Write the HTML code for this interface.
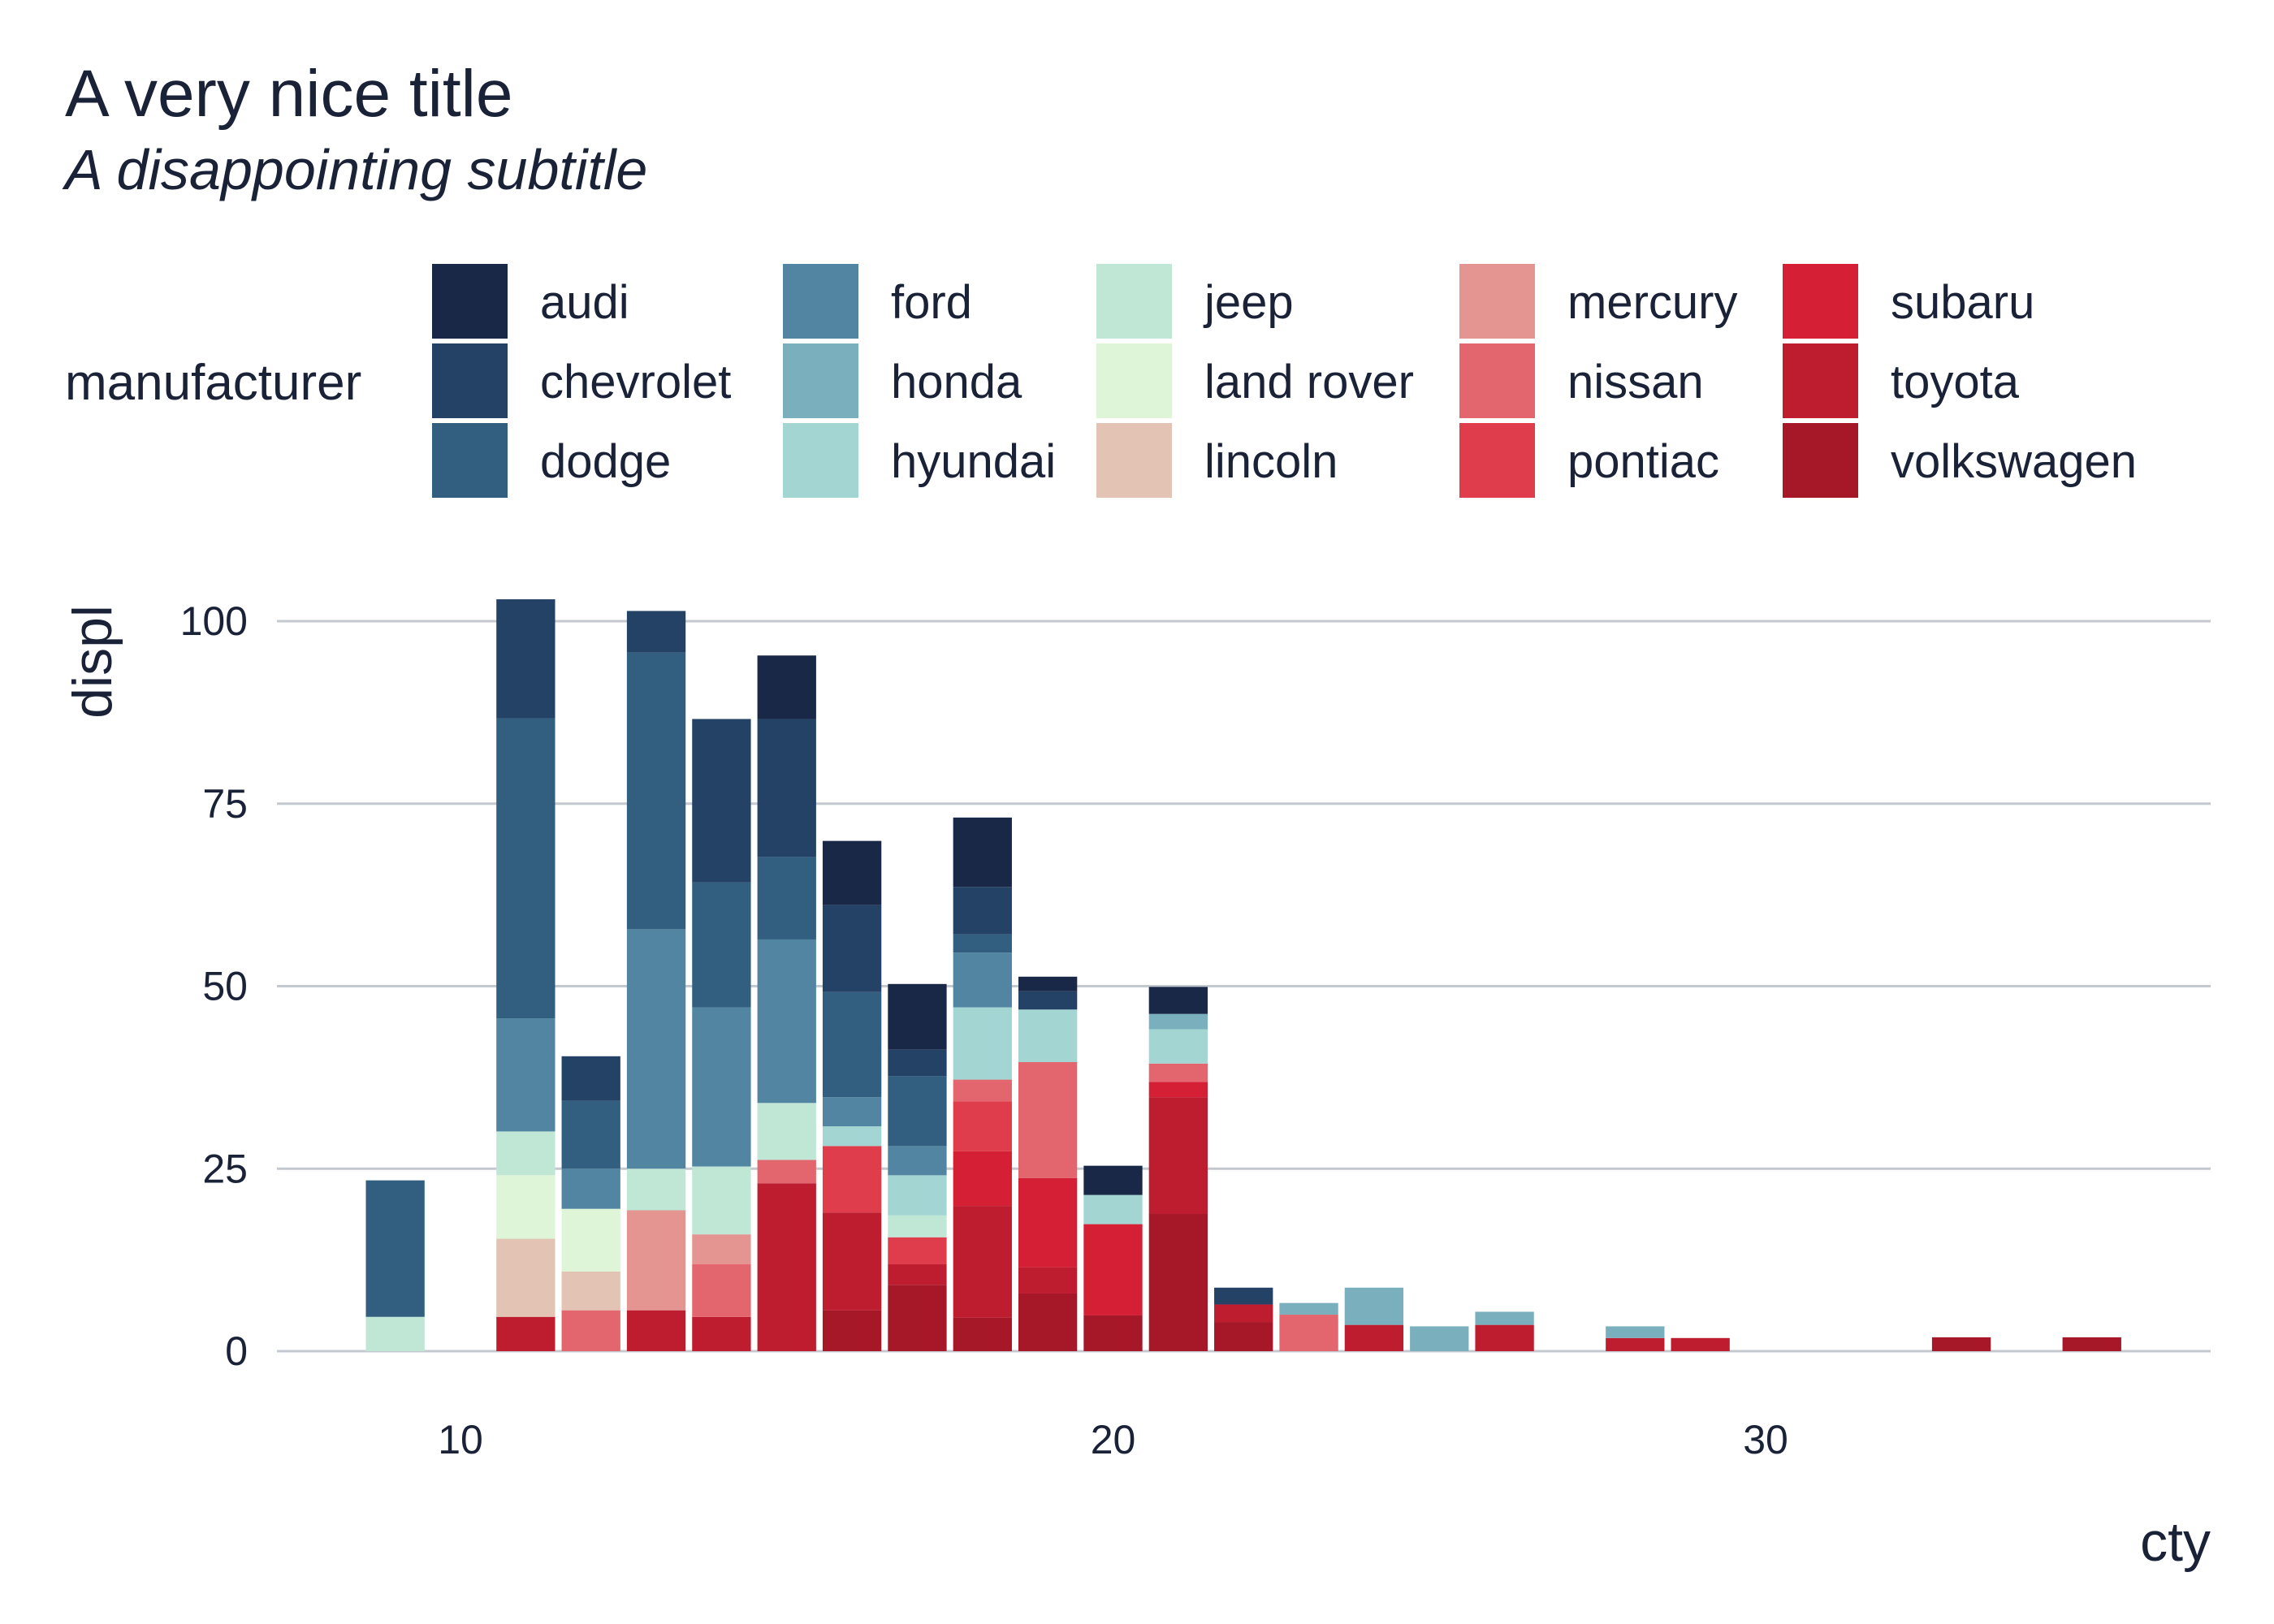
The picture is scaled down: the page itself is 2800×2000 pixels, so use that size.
<!DOCTYPE html>
<html><head><meta charset="utf-8"><style>
html,body{margin:0;padding:0;background:#fff;}
svg{display:block;font-family:"Liberation Sans",sans-serif;fill:#1a2238;}
</style></head><body>
<svg id="chart" width="2800" height="2000" viewBox="0 0 2800 2000" xmlns="http://www.w3.org/2000/svg">
<text x="80" y="143" font-size="82">A very nice title</text>
<text x="80" y="233" font-size="70" font-style="italic">A disappointing subtitle</text>
<text x="80" y="492" font-size="62">manufacturer</text>
<g id="legend"></g>
<g id="grid"></g>
<g id="bars"></g>
<g id="axes"></g>
<text x="2722" y="1922" font-size="68" text-anchor="end">cty</text>
<text transform="translate(137,745) rotate(-90)" font-size="68" text-anchor="end">displ</text>
</svg>
<script>
const manufacturers = ["audi","chevrolet","dodge","ford","honda","hyundai","jeep","land rover","lincoln","mercury","nissan","pontiac","subaru","toyota","volkswagen"];
const colors = ["#1a2847","#244266","#325f80","#5285a1","#7ab0bd","#a3d6d3","#c0e6d5","#dff5d8","#e2c3b4","#e49491","#e3666f","#df3d4c","#d41f35","#be1c2f","#a61728"];
const ctyValues = [9,11,12,13,14,15,16,17,18,19,20,21,22,23,24,25,26,28,29,33,35];
// displ sums per cty, in manufacturer order
const displAudi =      [0,0,0,0,0,8.7,8.8,9.0,9.5,2.0,4.0,3.7,0,0,0,0,0,0,0,0,0];
const displChevrolet = [0,16.3,6.1,5.7,22.4,18.9,11.9,3.6,6.5,2.5,0,0,2.3,0,0,0,0,0,0,0,0];
const displDodge =     [18.7,41.1,9.3,37.9,17.1,11.3,14.4,9.6,2.5,0,0,0,0,0,0,0,0,0,0,0,0];
const displFord =      [0,15.5,5.5,32.8,21.8,22.4,4.0,4.0,7.5,0,0,0,0,0,0,0,0,0,0,0,0];
const displHonda =     [0,0,0,0,0,0,0,0,0,0,0,2.1,0,1.6,5.1,3.4,1.8,1.6,0,0,0];
const displHyundai =   [0,0,0,0,0,0,2.7,5.5,9.9,7.2,4.0,4.7,0,0,0,0,0,0,0,0,0];
const displJeep =      [4.7,6.0,0,5.7,9.3,7.8,0,3.0,0,0,0,0,0,0,0,0,0,0,0,0,0];
const displLandRover = [0,8.7,8.6,0,0,0,0,0,0,0,0,0,0,0,0,0,0,0,0,0,0];
const displLincoln =   [0,10.7,5.3,0,0,0,0,0,0,0,0,0,0,0,0,0,0,0,0,0,0];
const displMercury =   [0,0,0,13.7,4.1,0,0,0,0,0,0,0,0,0,0,0,0,0,0,0,0];
const displNissan =    [0,0,5.6,0,7.2,3.2,0,0,3.0,15.9,0,2.5,0,5.0,0,0,0,0,0,0,0];
const displPontiac =   [0,0,0,0,0,0,9.1,3.7,6.8,0,0,0,0,0,0,0,0,0,0,0,0];
const displSubaru =    [0,0,0,0,0,0,0,0,7.5,12.2,12.5,2.1,0,0,0,0,0,0,0,0,0];
const displToyota =    [0,4.7,0,5.6,4.7,23.0,13.4,2.8,15.3,3.6,0,16.0,2.4,0,3.6,0,3.6,1.8,1.8,0,0];
const displVolkswagen =[0,0,0,0,0,0,5.6,9.1,4.6,7.9,4.9,18.8,4.0,0,0,0,0,0,0,1.9,1.9];
const series = [displAudi,displChevrolet,displDodge,displFord,displHonda,displHyundai,displJeep,displLandRover,displLincoln,displMercury,displNissan,displPontiac,displSubaru,displToyota,displVolkswagen];
const yTicks = [0,25,50,75,100];
const xTicks = [10,20,30];

const NS = "http://www.w3.org/2000/svg";
const xUnit = 80.35;
const xScale = v => 567 + (v - 10) * xUnit;
const yScale = v => 1664 - v * 8.99;
const plotL = 341, plotR = 2722;
function mk(tag, attrs, parent){ const e=document.createElementNS(NS,tag); for(const k in attrs) e.setAttribute(k,attrs[k]); parent.appendChild(e); return e; }

const grid = document.getElementById('grid');
const axes = document.getElementById('axes');
yTicks.forEach(t=>{
  const l = mk('line',{x1:plotL,x2:plotR,y1:yScale(t),y2:yScale(t),stroke:'#c4c8cf','stroke-width':3},grid);
  
  
  const tx = mk('text',{x:305,y:yScale(t)+17,'font-size':50,'text-anchor':'end'},axes);
  tx.textContent = t;
  
  
});
xTicks.forEach(t=>{
  const tx = mk('text',{x:xScale(t),y:1790,'font-size':50,'text-anchor':'middle'},axes);
  tx.textContent = t;
  
  
});

const bars = document.getElementById('bars');
const bw = 0.9 * xUnit;
ctyValues.forEach((c,i)=>{
  let cum = 0;
  for(let m = manufacturers.length-1; m>=0; m--){
    const v = series[m][i];
    if(!v) continue;
    const y0 = yScale(cum), y1 = yScale(cum+v);
    const r = mk('rect',{x:xScale(c)-bw/2,y:y1,width:bw,height:y0-y1,fill:colors[m]},bars);
    
    
    cum += v;
  }
});

const legend = document.getElementById('legend');
const colX = [532,964,1350,1797,2195];
const rowY = [325,423,521];
manufacturers.forEach((m,i)=>{
  const col = Math.floor(i/3), row = i%3;
  const r = mk('rect',{x:colX[col],y:rowY[row],width:93,height:92,fill:colors[i]},legend);
  
  
  const t = mk('text',{x:colX[col]+133,y:rowY[row]+67,'font-size':58},legend);
  t.textContent = m;
  
  
});
</script>
</body></html>
